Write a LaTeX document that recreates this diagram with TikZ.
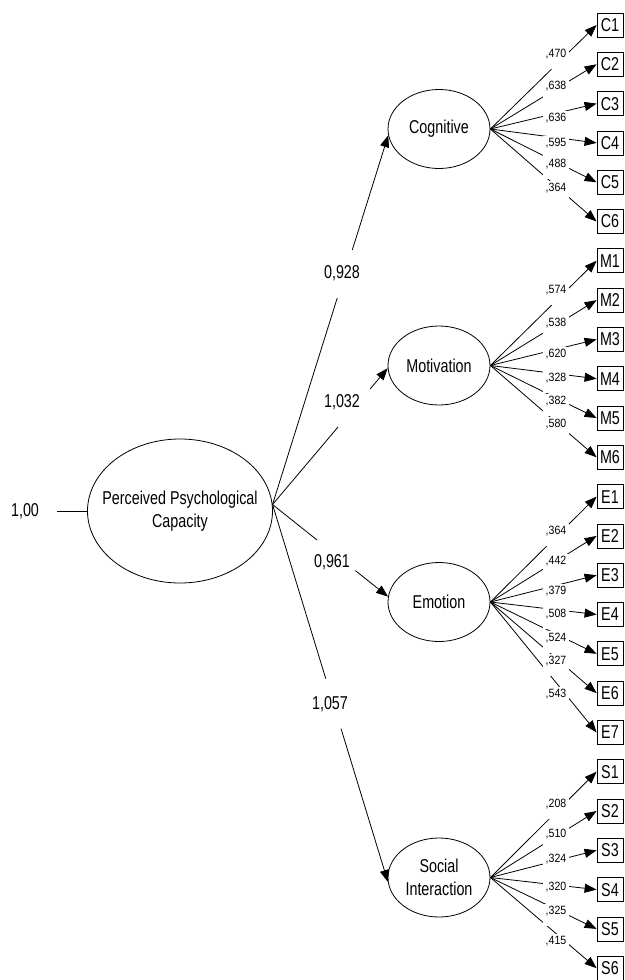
\documentclass[tikz,border=0pt]{standalone}
\usepackage{fontspec}
\setmainfont{Liberation Sans}
\usepackage{graphicx}
\usetikzlibrary{shapes.geometric,arrows.meta,calc}
\newcommand{\nar}[1]{\scalebox{0.77}[1]{#1}}
\newcommand{\sna}[1]{\scalebox{0.88}[1]{#1}}
\begin{document}
\begin{tikzpicture}[x=1pt,y=-1pt,
  latent/.style={draw, ellipse, line width=0.8pt, minimum width=102pt, minimum height=79pt, inner sep=0pt, font=\fontsize{18.6}{22.5}\selectfont, align=center},
  obs/.style={draw, rectangle, line width=0.8pt, minimum width=26pt, minimum height=24pt, inner sep=0pt, font=\fontsize{18.6}{22.5}\selectfont},
  conn/.style={line width=0.8pt},
  arr/.style={line width=0.8pt, -{Triangle[length=12pt,width=9pt]}},
  coef/.style={font=\fontsize{18.6}{22.5}\selectfont, inner sep=0pt},
  load/.style={font=\fontsize{12}{14}\selectfont, fill=white, anchor=base, inner xsep=3pt, inner ysep=1.5pt, text depth=10pt},
]
\useasboundingbox (0,0) rectangle (624,980);

% exogenous latent
\node[draw, ellipse, line width=0.8pt, minimum width=185pt, minimum height=144pt, inner sep=0pt] (ppc) at (180,511) {};
\node[coef, align=center] (ppctext) at (180,511) {\nar{Perceived Psychological}\\\nar{Capacity}};
\node[coef] (one) at (25,511) {\nar{1,00}};
\coordinate (e0) at (57,511);
\draw[conn] (e0) -- (ppc.west);

% first-order latents
\node[latent] (cog) at (439,129) {\nar{Cognitive}};
\node[latent] (mot) at (439,365.5) {\nar{Motivation}};
\node[latent] (emo) at (439,602) {\nar{Emotion}};
\node[latent] (soc) at (439,877.5) {\nar{Social}\\\nar{Interaction}};

% indicators
\foreach \n [count=\k from 0] in {C1,C2,C3,C4,C5,C6,M1,M2,M3,M4,M5,M6,E1,E2,E3,E4,E5,E6,E7,S1,S2,S3,S4,S5,S6}
  \node[obs] (\n) at (610,25+39.3*\k) {\nar{\n}};

% loadings
\foreach \n in {C1,C2,C3,C4,C5,C6} \draw[arr] (cog.east) -- (\n.west);
\foreach \n in {M1,M2,M3,M4,M5,M6} \draw[arr] (mot.east) -- (\n.west);
\foreach \n in {E1,E2,E3,E4,E5,E6,E7} \draw[arr] (emo.east) -- (\n.west);
\foreach \n in {S1,S2,S3,S4,S5,S6} \draw[arr] (soc.east) -- (\n.west);

\foreach \v/\y [count=\k] in {470/53,638/85,636/117,595/142,488/163,364/187,
  574/289,538/322,620/353,328/377,382/400,580/423,
  364/530,442/560,379/590,508/613,524/637,327/660,543/693,
  208/803,510/833,324/858,320/886,325/910,415/940}
  \node[load] (lab\k) at (556,\y+4) {\sna{,\v}};

% structural paths
\coordinate (P) at (ppc.4);
\draw[conn] (P) -- ($(P)!0.559!(cog.187)$);
\draw[arr] ($(P)!0.689!(cog.187)$) -- (cog.187);
\node[coef] (b1) at (342,273) {\nar{0,928}};

\draw[conn] (P) -- ($(P)!0.569!(mot.183)$);
\draw[arr] ($(P)!0.847!(mot.183)$) -- (mot.183);
\node[coef] (b2) at (342,402) {\nar{1,032}};

\draw[conn] (P) -- ($(P)!0.385!(emo.174)$);
\draw[arr] ($(P)!0.718!(emo.174)$) -- (emo.174);
\node[coef] (b3) at (332,562) {\nar{0,961}};

\draw[conn] (P) -- ($(P)!0.4615!(soc.185)$);
\draw[arr] ($(P)!0.594!(soc.185)$) -- (soc.185);
\node[coef] (b4) at (330,704) {\nar{1,057}};
\end{tikzpicture}
\end{document}
